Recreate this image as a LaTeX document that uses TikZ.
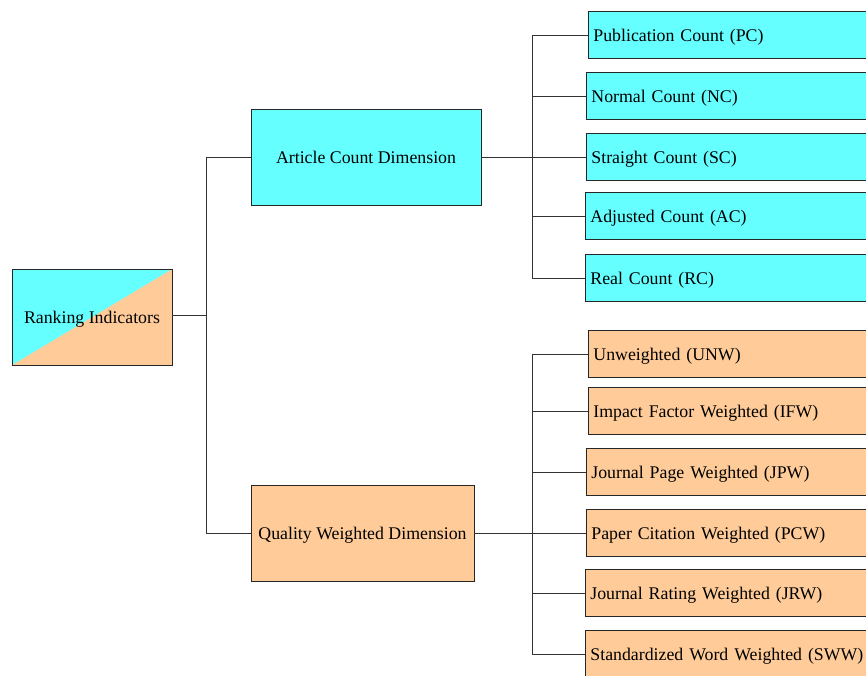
\documentclass[tikz,border=0pt]{standalone}
\usepackage{fontspec}
\setmainfont{Liberation Serif}
\definecolor{cy}{HTML}{66FFFF}
\definecolor{orng}{HTML}{FFCC99}
\begin{document}
\begin{tikzpicture}[x=1pt,y=-1pt,
  box/.style={draw=black!85, line width=0.8pt, font=\fontsize{17.8pt}{20pt}\selectfont, inner sep=0pt, text depth=0pt},
  leaf/.style={box, anchor=west, minimum height=47pt, text width=290pt, align=left, inner xsep=5pt},
  cleaf/.style={leaf, fill=cy},
  oleaf/.style={leaf, fill=orng},
  wire/.style={draw=black!80, line width=0.8pt}]
\useasboundingbox (0,0) rectangle (866,675);
\clip (0,0) rectangle (866,675);
\node[box, minimum width=160pt, minimum height=96pt, fill=orng,
  path picture={\fill[cy] (path picture bounding box.south west) -- (path picture bounding box.north west) -- (path picture bounding box.north east) -- cycle;}]
  (root) at (92,317) {Ranking Indicators};
\node[box, fill=cy, minimum width=230pt, minimum height=96pt] (acd) at (366,157) {Article Count Dimension};
\node[box, fill=orng, minimum width=223pt, minimum height=96pt] (qwd) at (362.5,533) {Quality Weighted Dimension};
\node[cleaf] (pc) at (588,35) {Publication Count (PC)};
\node[cleaf] (nc) at (586,96) {Normal Count (NC)};
\node[cleaf] (sc) at (586,157) {Straight Count (SC)};
\node[cleaf] (ac) at (585,216) {Adjusted Count (AC)};
\node[cleaf] (rc) at (585,278) {Real Count (RC)};
\node[oleaf] (unw) at (588,354) {Unweighted (UNW)};
\node[oleaf] (ifw) at (588,411) {Impact Factor Weighted (IFW)};
\node[oleaf] (jpw) at (586,472) {Journal Page Weighted (JPW)};
\node[oleaf] (pcw) at (586,533) {Paper Citation Weighted (PCW)};
\node[oleaf] (jrw) at (585,593) {Journal Rating Weighted (JRW)};
\node[oleaf] (sww) at (585,654) {Standardized Word Weighted (SWW)};
\coordinate (t0) at (206,315);
\coordinate (t1) at (532,157);
\coordinate (t2) at (532,533);
\draw[wire] (root.east |- t0) -- (t0);
\draw[wire] (t0) |- (acd.west);
\draw[wire] (t0) |- (qwd.west);
\draw[wire] (acd.east) -- (t1);
\foreach \n in {pc,nc,sc,ac,rc} \draw[wire] (t1) |- (\n.west);
\draw[wire] (qwd.east) -- (t2);
\foreach \n in {unw,ifw,jpw,pcw,jrw,sww} \draw[wire] (t2) |- (\n.west);
\end{tikzpicture}
\end{document}
